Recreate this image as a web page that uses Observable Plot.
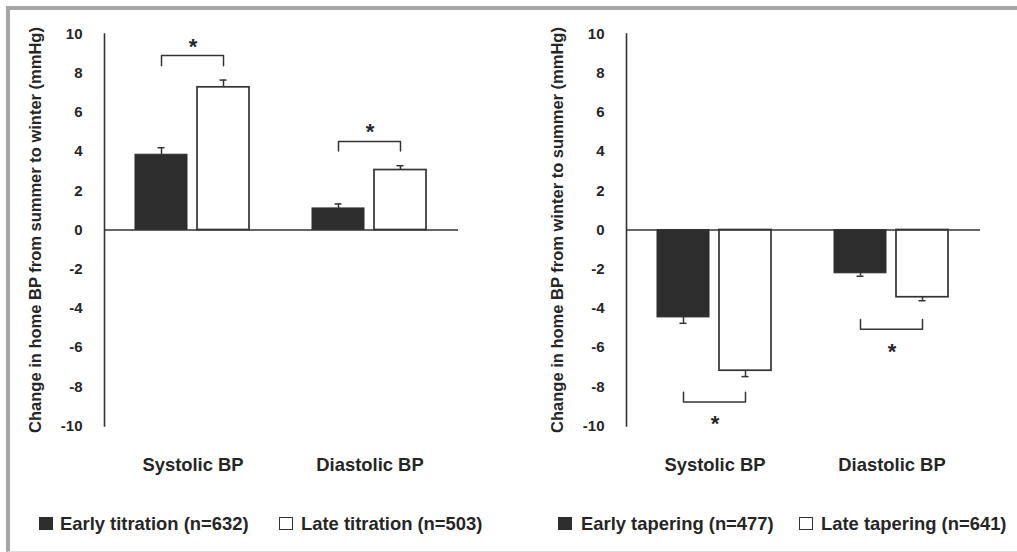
<!DOCTYPE html>
<html>
<head>
<meta charset="utf-8">
<script src="https://cdn.jsdelivr.net/npm/d3@7"></script>
<script src="https://cdn.jsdelivr.net/npm/@observablehq/plot@0.6"></script>
<style>
  html, body { margin: 0; padding: 0; background: #fff; }
  body { width: 1017px; height: 552px; position: relative; overflow: hidden;
         font-family: "Liberation Sans", Arial, sans-serif; color: #262626; }
  #frame { position: absolute; left: 6px; top: 6px; width: 1011px; height: 546px; box-sizing: border-box;
           border-top: 4px solid #a6a6a6; border-left: 4px solid #a6a6a6; border-bottom: 1px solid #dcdcdc; }
  .panel { position: absolute; top: 0; }
  .leg { position: absolute; top: 513px; font-size: 18.4px; font-weight: bold; white-space: nowrap; line-height: normal; }
  .sw { position: absolute; top: 517px; width: 14px; height: 13px; box-sizing: border-box; }
  .sw.dark { background: #2d2d2d; }
  .sw.light { background: #fff; border: 1.6px solid #333; }
</style>
</head>
<body>
<div id="frame"></div>
<div id="left" class="panel" style="left:0px"></div>
<div id="right" class="panel" style="left:522px"></div>

<div class="sw dark" style="left:39px"></div>
<div class="leg" style="left:60px">Early titration (n=632)</div>
<div class="sw light" style="left:279px"></div>
<div class="leg" style="left:301px">Late titration (n=503)</div>
<div class="sw dark" style="left:558px"></div>
<div class="leg" style="left:581px">Early tapering (n=477)</div>
<div class="sw light" style="left:799px"></div>
<div class="leg" style="left:821px">Late tapering (n=641)</div>

<script>
// ---- data ----
const categories = ["Systolic BP", "Diastolic BP"];
const groups = ["Early", "Late"];
const yTicks = [-10, -8, -6, -4, -2, 0, 2, 4, 6, 8, 10];

// Left panel: summer -> winter (titration)
const titrationEarly = [3.84, 1.10];
const titrationLate = [7.28, 3.06];
const titrationEarlySE = [0.36, 0.23];
const titrationLateSE = [0.37, 0.22];
const titrationBracketLevel = [8.90, 4.52];
const titrationBracketLeg = [8.38, 4.03];
const titrationStar = [9.60, 5.28];
const titrationTitle = "Change in home BP from summer to winter (mmHg)";

// Right panel: winter -> summer (tapering)
const taperingEarly = [-4.46, -2.21];
const taperingLate = [-7.18, -3.43];
const taperingEarlySE = [0.30, 0.15];
const taperingLateSE = [0.30, 0.18];
const taperingBracketLevel = [-8.78, -5.07];
const taperingBracketLeg = [-8.28, -4.56];
const taperingStar = [-9.64, -5.97];
const taperingTitle = "Change in home BP from winter to summer (mmHg)";

const INK = "#333";
const TEXT = "#262626";

function panel(early, late, earlySE, lateSE, level, leg, star, title) {
  const rows = categories.flatMap((c, i) => [
    {cat: c, g: "Early", v: early[i], se: earlySE[i]},
    {cat: c, g: "Late", v: late[i], se: lateSE[i]}
  ]).map(d => ({...d, end: d.v + Math.sign(d.v) * d.se}));
  const bracketPts = categories.flatMap((c, i) => [
    {cat: c, id: i, g: "Early", y: leg[i]},
    {cat: c, id: i, g: "Early", y: level[i]},
    {cat: c, id: i, g: "Late", y: level[i]},
    {cat: c, id: i, g: "Late", y: leg[i]}
  ]);
  const stars = categories.map((c, i) => ({cat: c, y: star[i]}));

  return Plot.plot({
    width: 495,
    height: 485.5,
    marginLeft: 103,
    marginRight: 37,
    marginTop: 33.5,
    marginBottom: 60,
    style: {background: "transparent", fontFamily: "'Liberation Sans', Arial, sans-serif", color: TEXT, overflow: "visible"},
    fx: {domain: categories, padding: 0, axis: null},
    x: {domain: groups, paddingInner: 0.159, paddingOuter: 0.488, axis: null},
    y: {domain: [-10, 10], axis: null},
    marks: [
      Plot.axisY({ticks: yTicks, tickSize: 0, tickPadding: 22, tickFormat: d => String(d),
                  fontSize: 15, fontWeight: "bold", fill: TEXT, label: null}),
      Plot.axisFx({anchor: "bottom", tickSize: 0, tickPadding: 32, fontSize: 18.4, fontWeight: "bold", fill: TEXT, label: null}),
      Plot.barY(rows.filter(d => d.g === "Early"), {fx: "cat", x: "g", y: "v", fill: "#2d2d2d", stroke: "#2d2d2d", strokeWidth: 1}),
      Plot.barY(rows.filter(d => d.g === "Late"), {fx: "cat", x: "g", y: "v", fill: "#fff", stroke: INK, strokeWidth: 1.7}),
      Plot.ruleX(rows, {fx: "cat", x: "g", y1: "v", y2: "end", stroke: INK, strokeWidth: 1.5}),
      Plot.tickY(rows, {fx: "cat", x: "g", y: "end", insetLeft: 22.5, insetRight: 22.5, stroke: INK, strokeWidth: 1.5}),
      Plot.ruleY([0], {stroke: INK, strokeWidth: 1.6}),
      Plot.frame({anchor: "left", facetAnchor: "left", stroke: INK, strokeWidth: 1.6}),
      Plot.line(bracketPts, {fx: "cat", x: "g", y: "y", z: "id", stroke: INK, strokeWidth: 1.5}),
      Plot.text(stars, {fx: "cat", y: "y", text: () => "*", fontSize: 22, fontWeight: "bold", fill: TEXT, dy: 5}),
      Plot.text([title], {frameAnchor: "left", facetAnchor: "left", rotate: -90, dx: -69, text: d => d,
                          textAnchor: "middle", lineAnchor: "middle",
                          fontSize: 16.5, fontWeight: "bold", fill: TEXT})
    ]
  });
}

document.getElementById("left").append(panel(titrationEarly, titrationLate, titrationEarlySE, titrationLateSE,
  titrationBracketLevel, titrationBracketLeg, titrationStar, titrationTitle));
document.getElementById("right").append(panel(taperingEarly, taperingLate, taperingEarlySE, taperingLateSE,
  taperingBracketLevel, taperingBracketLeg, taperingStar, taperingTitle));
</script>
</body>
</html>
